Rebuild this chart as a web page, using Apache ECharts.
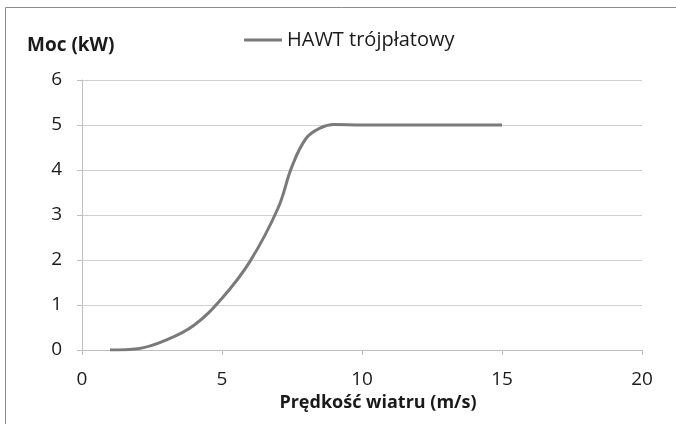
<!DOCTYPE html>
<html>
<head>
<meta charset="utf-8">
<script src="https://cdn.jsdelivr.net/npm/echarts@6/dist/echarts.min.js"></script>
<style>
  html, body { margin: 0; padding: 0; background: #fff; }
  #chart { width: 676px; height: 424px; }
</style>
</head>
<body>
<div id="chart"></div>
<script>
// wind speed (m/s) and power (kW)
const windSpeed = [1, 2, 3, 4, 5, 6, 7, 7.5, 8, 8.5, 9, 10, 11, 12, 13, 14, 15];
const power = [0, 0.03, 0.22, 0.55, 1.15, 1.97, 3.15, 4.08, 4.7, 4.93, 5.01, 5.0, 5.0, 5.0, 5.0, 5.0, 5.0];
const xTicks = [0, 5, 10, 15, 20];
const yTicks = [0, 1, 2, 3, 4, 5, 6];

const chart = echarts.init(document.getElementById('chart'));
const font = '"Open Sans", sans-serif';

chart.setOption({
  animation: false,
  textStyle: { fontFamily: font },
  graphic: [{
    type: 'rect',
    shape: { x: 5.5, y: 7.5, width: 680, height: 440 },
    style: { fill: 'none', stroke: '#8c8c8c', lineWidth: 1 }
  }, {
    type: 'text',
    left: 27, top: 36,
    style: { text: 'Moc (kW)', font: 'bold 19px ' + font, fill: '#1a1a1a' }
  }],
  legend: {
    top: 25,
    left: 239,
    itemWidth: 38,
    itemHeight: 3,
    icon: 'rect',
    textStyle: { fontSize: 20, color: '#1a1a1a', fontFamily: font },
    data: ['HAWT trójpłatowy']
  },
  grid: { left: 82, right: 34, top: 80, bottom: 74 },
  xAxis: {
    type: 'value',
    min: xTicks[0],
    max: xTicks[xTicks.length - 1],
    interval: 5,
    name: 'Prędkość wiatru (m/s)',
    nameLocation: 'middle',
    nameGap: 37,
    nameTextStyle: { fontSize: 18, fontWeight: 'bold', color: '#1a1a1a', fontFamily: font, padding: [0, 0, 0, 32] },
    axisLine: { lineStyle: { color: '#bfbfbf' } },
    axisTick: { show: true, length: 5, lineStyle: { color: '#bfbfbf' } },
    axisLabel: { fontSize: 19, color: '#1a1a1a', margin: 20 },
    splitLine: { show: false }
  },
  yAxis: {
    type: 'value',
    min: yTicks[0],
    max: yTicks[yTicks.length - 1],
    interval: 1,
    axisLine: { show: true, lineStyle: { color: '#bfbfbf' } },
    axisTick: { show: true, length: 5, lineStyle: { color: '#bfbfbf' } },
    axisLabel: { fontSize: 19, color: '#1a1a1a', margin: 20 },
    splitLine: { lineStyle: { color: '#d0d0d0' } }
  },
  series: [{
    name: 'HAWT trójpłatowy',
    type: 'line',
    smooth: 0.4,
    showSymbol: false,
    data: windSpeed.map((v, i) => [v, power[i]]),
    lineStyle: { color: '#7a7a7a', width: 3 },
    itemStyle: { color: '#7a7a7a' }
  }]
});
</script>
</body>
</html>
